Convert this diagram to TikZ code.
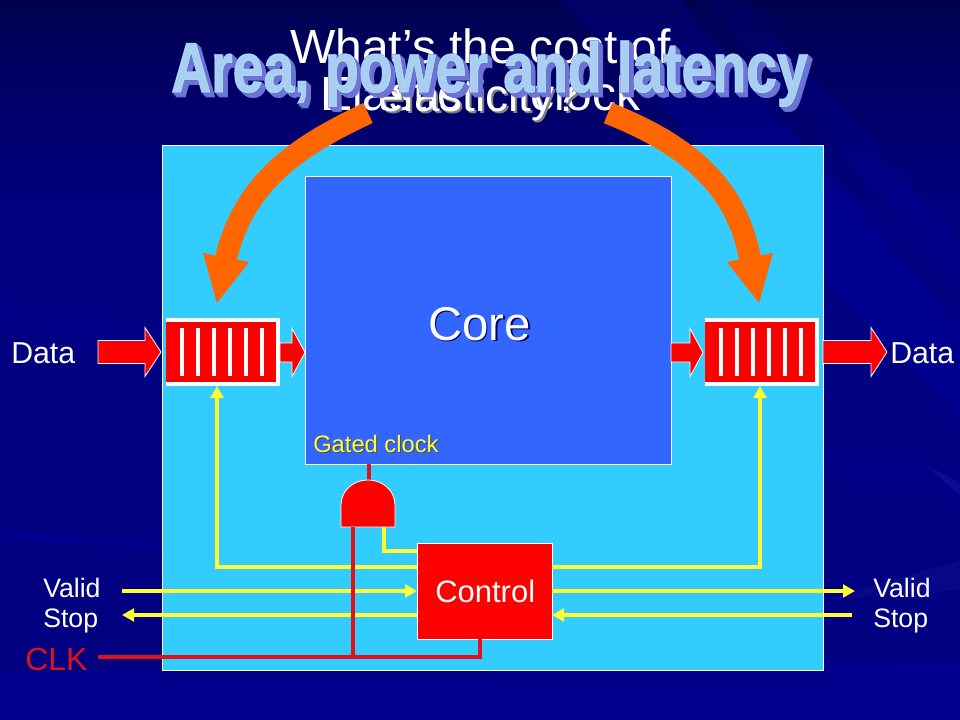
\documentclass[tikz,border=0pt]{standalone}
\usepackage{fontspec}
\usepackage{graphicx}
\setmainfont{Liberation Sans}
\newfontfamily\waout{Liberation Sans}[BoldFeatures={FakeBold=2.6}]
\newfontfamily\wafill{Liberation Sans}[BoldFeatures={FakeBold=1.7}]
\usetikzlibrary{arrows.meta,calc}
\definecolor{panelblue}{HTML}{33CCFF}
\definecolor{coreblue}{HTML}{3366FF}
\definecolor{boxred}{HTML}{FF0000}
\definecolor{clkred}{HTML}{E0101C}
\definecolor{wireyel}{HTML}{FFFF33}
\definecolor{bigorange}{HTML}{FF6600}
\definecolor{wafillc}{HTML}{B0DAF6}
\definecolor{waoutc}{HTML}{4E58C0}
\definecolor{waexc}{HTML}{6E74D8}
\newcommand{\fsz}[1]{\fontsize{#1}{#1}\selectfont}
\newcommand{\wordart}[1]{\scalebox{1}[1.27]{#1}}
\newcommand{\blockarr}[6]{% x0 xhead xtip yc shaft/2 head/2
  \draw[blockstyle] (#1,#4-#5) -- (#2,#4-#5) -- (#2,#4-#6) -- (#3,#4) -- (#2,#4+#6) -- (#2,#4+#5) -- (#1,#4+#5) -- cycle;}
\newcommand{\fifobars}[1]{\foreach \i in {0,...,5} {\fill[white] (#1+16*\i-2,328) rectangle (#1+16*\i+2,376);}}
\tikzset{
  x=0.75pt,y=-0.75pt,
  plate/.style={draw=white,line width=0.75pt,inner sep=0,outer sep=0,anchor=north west},
  blockstyle/.style={fill=boxred,draw=white,line width=0.6pt,line join=miter},
  lab/.style={inner sep=0,anchor=base west,text=white},
  wire/.style={draw=wireyel,line width=3pt},
  wirearrow/.style={wire,-{Triangle[length=9pt,width=9.5pt]}},
  clkwire/.style={draw=clkred,line width=3.3pt},
  bigarrow/.style={draw=bigorange,line width=16.5pt},
  bighead/.style={fill=bigorange},
  wa/.style={inner sep=0,anchor=base west,opacity=.92},
}
\begin{document}
\begin{tikzpicture}
\useasboundingbox (0,0) rectangle (960,720);
% background
\fill[blue!50!black] (0,0) rectangle (960,720);
\shade[top color=black!30!blue!45!black,bottom color=blue!50!black] (0,0) rectangle (960,200);
\fill[blue,opacity=.06] (0,300) -- (960,470) -- (960,500) -- (0,325) -- cycle;
\fill[blue,opacity=.10] (0,530) -- (165,543) -- (165,548) -- (0,540) -- cycle;
\fill[blue,opacity=.12] (560,0) -- (680,0) -- (960,330) -- (960,420) -- cycle;
\fill[blue,opacity=.08] (700,0) -- (745,0) -- (960,240) -- (960,280) -- cycle;
\fill[blue,opacity=.10] (0,672) -- (960,660) -- (960,720) -- (0,720) -- cycle;
\fill[blue!60!white,opacity=.10] (925,465) -- (960,482) -- (960,495) -- cycle;
\fill[blue!60!white,opacity=.07] (825,600) -- (960,560) -- (960,590) -- cycle;

% title texts
\node[lab] (title1) at (290,64) {\fsz{36pt}What’s the cost of};
\node[lab] (title2) at (320,111) {\fsz{36pt}Elastic\hspace{52pt}clock};
\node[lab,text=black!50] (title3s) at (380,114) {\fsz{34.5pt}elasticity?};
\node[lab] (title3) at (378,112) {\fsz{34.5pt}elasticity?};

% word art
\foreach \d in {4.5,3.5,2.5,1.5} {
  \node[wa,text=waexc] (waex\d) at (171+\d,92+\d) {\wordart{\fsz{41.5pt}\waout\bfseries Area, power and latency}};
}
\node[wa,text=waoutc] (waline) at (171,92) {\wordart{\fsz{41.5pt}\waout\bfseries Area, power and latency}};
\node[wa,text=wafillc] (wafront) at (171,92) {\wordart{\fsz{41.5pt}\wafill\bfseries Area, power and latency}};

% panel
\node[plate,fill=panelblue,minimum width=661*0.75pt,minimum height=524*0.75pt] (panel) at (162,146) {};
\node[plate,fill=coreblue,minimum width=366*0.75pt,minimum height=287*0.75pt] (core) at (305,177) {};
\node[lab,text=black!60!blue] (cores) at (429.5,341.5) {\fsz{35.5pt}Core};
\node[lab] (corel) at (428,340) {\fsz{35.5pt}Core};
\node[lab,text=black!70] (gateds) at (314,453.2) {\fsz{17.8pt}Gated clock};
\node[lab,text=wireyel] (gated) at (313,452) {\fsz{17.8pt}Gated clock};

% FIFOs
\fill[white] (166,318) rectangle (280,386);
\node[inner sep=0,outer sep=0,anchor=north west,fill=boxred,minimum width=110*0.75pt,minimum height=60*0.75pt] (fifoL) at (166,322) {};
\fifobars{182}
\fill[white] (705,318) rectangle (819,386);
\node[inner sep=0,outer sep=0,anchor=north west,fill=boxred,minimum width=110*0.75pt,minimum height=60*0.75pt] (fifoR) at (705,322) {};
\fifobars{721}

% data arrows
\blockarr{98}{145}{161}{352}{11.5}{24.5}
\blockarr{280}{292}{305}{352.5}{9.5}{24}
\blockarr{671}{690}{703}{352.5}{9.5}{24}
\blockarr{823}{871}{887}{352}{11.5}{24.5}
\node[lab] (dataL) at (11,363) {\fsz{22.7pt}Data};
\node[lab] (dataR) at (890,363) {\fsz{22.7pt}Data};

% control
\node[plate,fill=boxred,minimum width=135*0.75pt,minimum height=96*0.75pt] (control) at (417,543) {};
\node[lab] (controll) at (435,602) {\fsz{23.25pt}Control};

% gate
\coordinate (gateBL) at (341,527);
\coordinate (gateBR) at (395,527);
\coordinate (gateTop) at (368,480);
\coordinate (gateClk) at (353,527);
\coordinate (gateEn) at (384,527);
\coordinate (coreClk) at (369,464);
\draw[clkwire] (coreClk) -- (369,482);
\draw[fill=boxred,draw=white,line width=.6pt] (gateBL) -- (341,505) .. controls (341,490) and (354,480) .. (gateTop) .. controls (382,480) and (395,490) .. (395,505) -- (gateBR) -- cycle;

% yellow wires
\coordinate (valLin) at (122,591);
\coordinate (stopLout) at (122,615);
\coordinate (valRout) at (855,591);
\coordinate (stopRin) at (852,615);
\draw[wirearrow] (valLin) -- (valLin -| control.west);
\draw[wirearrow] (stopLout -| control.west) -- (stopLout);
\draw[wirearrow] (valRout -| control.east) -- (valRout);
\draw[wirearrow] (stopRin) -- (stopRin -| control.east);
\draw[wirearrow] (control.west |- 0,567) -| (217,386);
\draw[wirearrow] (control.east |- 0,567) -| (760,386);
\draw[wire] (gateEn) |- (control.west |- 0,551);
\draw[clkwire] (control.south -| 480,0) |- (98,657);
\draw[clkwire] (gateClk) -- (353,657);

% orange arrows
\coordinate (orLs) at (368,113); \coordinate (orLe) at (226,258);
\coordinate (orRs) at (608,113); \coordinate (orRe) at (750,258);
\draw[bigarrow] (orLs) .. controls (300,145) and (245,180) .. (orLe);
\fill[bighead] (203,253) -- (249,262) -- (217,303) -- cycle;
\draw[bigarrow] (orRs) .. controls (680,142) and (735,180) .. (orRe);
\fill[bighead] (727,262) -- (773,253) -- (759,303) -- cycle;

% labels
\node[lab] (validL) at (43,597) {\fsz{20pt}Valid};
\node[lab] (stopL) at (43,627) {\fsz{20pt}Stop};
\node[lab] (validR) at (873,597) {\fsz{20pt}Valid};
\node[lab] (stopR) at (873,627) {\fsz{20pt}Stop};
\node[lab,text=clkred] (clk) at (25,670) {\fsz{24pt}CLK};
\end{tikzpicture}
\end{document}
